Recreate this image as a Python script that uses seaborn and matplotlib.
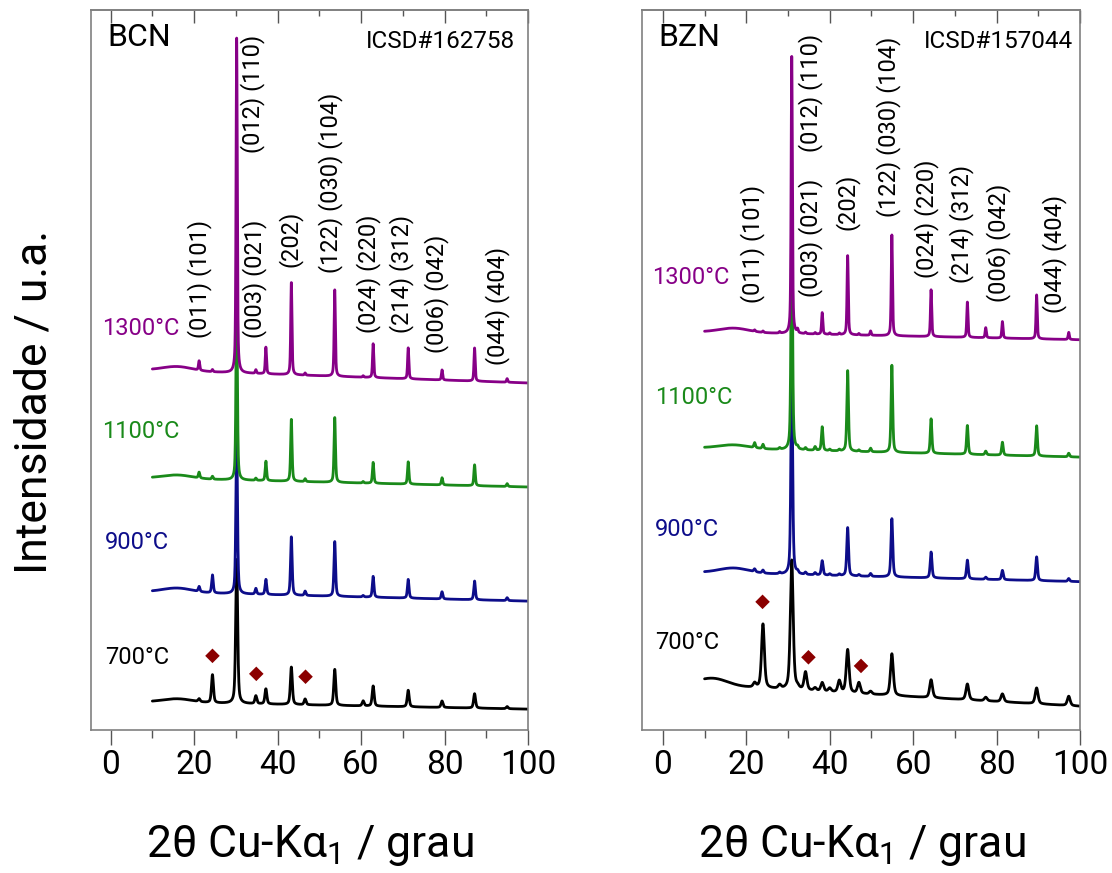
import numpy as np
import matplotlib
matplotlib.use("Agg")
import matplotlib.pyplot as plt
from matplotlib.ticker import MultipleLocator
import seaborn as sns

# ---- data (y in arbitrary units, axis spans 0..100) ----
series = ["700°C", "900°C", "1100°C", "1300°C"]
colors = ["#000000", "#0d0d8a", "#1a8a1a", "#870087"]

# BCN (ICSD#162758)
bcn_pos = [21.2, 24.4, 30.2, 34.8, 37.2, 43.3, 46.6, 53.7, 60.5, 62.9, 71.3, 79.4, 87.2, 95.0]
bcn_h700 = [0.4, 3.9, 20.0, 1.1, 2.1, 5.2, 0.8, 5.0, 0.7, 2.8, 2.3, 0.9, 2.0, 0.3]
bcn_h900 = [0.7, 2.5, 22.0, 0.8, 2.1, 8.1, 0.6, 7.6, 0.2, 2.9, 2.6, 1.0, 2.6, 0.4]
bcn_h1100 = [0.8, 0.4, 26.0, 0.3, 2.7, 8.6, 0.4, 9.0, 0.2, 2.9, 3.1, 1.0, 2.9, 0.4]
bcn_h1300 = [1.3, 0.3, 46.5, 0.5, 3.7, 12.8, 0.3, 12.0, 0.2, 4.7, 4.3, 1.4, 4.6, 0.5]
bcn_base = [(3.9, 2.9), (19.2, 17.9), (35.0, 33.75), (50.0, 48.2)]
bcn_hump = [(16, 0.5), (16, 0.6), (16, 0.5), (16, 0.6)]
bcn_fwhm = [0.55, 0.45, 0.4, 0.35]
bcn_imp_x = [24.4, 34.9, 46.7]
bcn_imp_y = [10.3, 7.8, 7.4]

# BZN (ICSD#157044)
bzn_pos = [22.0, 24.0, 28.0, 30.9, 32.3, 34.2, 36.5, 38.2, 40.0, 42.3, 44.3, 47.0,
           49.8, 54.9, 64.3, 73.0, 77.4, 81.4, 89.6, 97.3]
bzn_h700 = [0.6, 8.9, 0.5, 18.0, 0.3, 2.5, 0.4, 1.2, 0.5, 1.6, 6.0, 1.5,
            0.4, 5.8, 2.5, 2.2, 0.5, 1.1, 2.2, 1.3]
bzn_h900 = [0.4, 0.4, 0.2, 28.0, 0.3, 0.3, 0.3, 2.0, 0.2, 0.2, 6.7, 0.2,
            0.4, 8.1, 3.6, 2.6, 0.3, 1.3, 3.3, 0.4]
bzn_h1100 = [0.7, 0.6, 0.2, 32.0, 0.3, 0.3, 0.5, 3.3, 0.2, 0.2, 11.2, 0.2,
             0.5, 12.1, 4.8, 4.0, 0.5, 1.8, 4.2, 0.5]
bzn_h1300 = [0.2, 0.2, 0.2, 38.5, 0.5, 0.2, 0.2, 3.0, 0.2, 0.2, 11.0, 0.2,
             0.6, 14.0, 6.5, 4.9, 1.4, 2.3, 6.1, 1.0]
bzn_base = [(6.25, 3.3), (21.9, 20.6), (39.2, 37.9), (55.3, 54.2)]
bzn_hump = [(12, 1.0), (17, 0.7), (17, 0.5), (17, 0.6)]
bzn_fwhm = [0.8, 0.5, 0.45, 0.35]
bzn_imp_x = [23.9, 34.9, 47.5]
bzn_imp_y = [17.8, 10.1, 8.9]

# Miller index labels: (text, x, y of text start)
bcn_hkl = [("(011) (101)", 21.4, 54.4), ("(003) (021)", 34.6, 54.4),
           ("(012) (110)", 34.1, 80.1), ("(202)", 43.0, 64.3),
           ("(122) (030) (104)", 52.6, 63.5), ("(024) (220)", 61.7, 55.1),
           ("(214) (312)", 69.8, 55.1), ("(006) (042)", 78.2, 52.4),
           ("(044) (404)", 92.8, 50.7)]
bzn_hkl = [("(011) (101)", 21.4, 59.3), ("(003) (021)", 35.3, 60.1),
           ("(012) (110)", 35.3, 80.3), ("(202)", 44.2, 69.4),
           ("(122) (030) (104)", 54.0, 71.25), ("(024) (220)", 63.3, 62.8),
           ("(214) (312)", 71.7, 62.1), ("(006) (042)", 80.4, 59.4),
           ("(044) (404)", 94.0, 57.9)]
bcn_lab = [(-1.4, 10.1), (-1.4, 26.0), (-2.1, 41.4), (-2.1, 55.8)]
bzn_lab = [(-1.8, 12.2), (-1.8, 27.8), (-1.8, 46.25), (-2.6, 62.8)]

two_theta = np.arange(10, 100.001, 0.02)


def pattern(pos, heights, fwhm, base, hump):
    # pseudo-Voigt peaks on a sloping background with a small amorphous hump
    y = base[0] + (base[1] - base[0]) * (two_theta - 10) / 90
    y = y + hump[1] * np.exp(-0.5 * ((two_theta - hump[0]) / 3.5) ** 2)
    g = fwhm / 2
    for c, h in zip(pos, heights):
        lor = g ** 2 / ((two_theta - c) ** 2 + g ** 2)
        gau = np.exp(-np.log(2) * ((two_theta - c) / g) ** 2)
        y = y + h * (0.5 * lor + 0.5 * gau)
    return y


sns.set_style("ticks")
plt.rcParams['font.family'] = ['Roboto', 'DejaVu Sans']
plt.rcParams['mathtext.fontset'] = 'custom'
plt.rcParams['mathtext.rm'] = 'Roboto'
plt.rcParams['mathtext.it'] = 'Roboto'
plt.rcParams['text.color'] = 'black'
plt.rcParams['xtick.labelcolor'] = 'black'

fig = plt.figure(figsize=(11.12, 8.73), dpi=100)
ax1 = fig.add_axes([91 / 1112, 143 / 873, 437 / 1112, 720 / 873])
ax2 = fig.add_axes([642 / 1112, 143 / 873, 438 / 1112, 720 / 873])

panels = [
    (ax1, "BCN", "ICSD#162758", bcn_pos, [bcn_h700, bcn_h900, bcn_h1100, bcn_h1300],
     bcn_base, bcn_hump, bcn_fwhm, bcn_imp_x, bcn_imp_y, bcn_hkl, bcn_lab, -4.7, 0.970),
    (ax2, "BZN", "ICSD#157044", bzn_pos, [bzn_h700, bzn_h900, bzn_h1100, bzn_h1300],
     bzn_base, bzn_hump, bzn_fwhm, bzn_imp_x, bzn_imp_y, bzn_hkl, bzn_lab, -5.0, 0.984),
]

for (ax, name, icsd, pos, hs, base, hump, fwhm, ix, iy, hkl, lab, x0, icx) in panels:
    for i in range(4):
        y = pattern(pos, hs[i], fwhm[i], base[i], hump[i])
        sns.lineplot(x=two_theta, y=y, color=colors[i], linewidth=2.0, ax=ax,
                     estimator=None, sort=False)
        ax.text(lab[i][0], lab[i][1], series[i], color=colors[i], fontsize=17,
                ha='left', va='center')
    sns.scatterplot(x=ix, y=iy, marker='D', color='#8b0000', s=55, ax=ax,
                    edgecolor='none', zorder=5)
    for t, x, y in hkl:
        ax.text(x, y, t, rotation=90, rotation_mode='anchor', ha='left',
                va='center', fontsize=17, color='black')
    ax.text(0.037, 0.962, name, transform=ax.transAxes, fontsize=23,
            ha='left', va='center', color='black')
    ax.text(icx, 0.956, icsd, transform=ax.transAxes, fontsize=17.5,
            ha='right', va='center', color='black')

    ax.set_xlim(x0, 100)
    ax.set_ylim(0, 100)
    ax.set_yticks([])
    ax.set_xlabel("")
    ax.set_ylabel("")
    ax.xaxis.set_major_locator(MultipleLocator(20))
    ax.xaxis.set_minor_locator(MultipleLocator(10))
    ax.tick_params(axis='x', which='major', direction='out', length=11, width=1,
                   color='#555555', labelcolor='black', labelsize=24, pad=3)
    ax.tick_params(axis='x', which='minor', direction='out', length=6, width=1,
                   color='#555555')
    for sp in ax.spines.values():
        sp.set_visible(True)
        sp.set_color('#808080')
        sp.set_linewidth(1.2)
    top = ax.secondary_xaxis('top')
    top.xaxis.set_major_locator(MultipleLocator(20))
    top.xaxis.set_minor_locator(MultipleLocator(10))
    top.tick_params(axis='x', which='major', direction='in', length=9.5, width=1,
                    color='#555555', labeltop=False)
    top.tick_params(axis='x', which='minor', direction='in', length=4, width=1,
                    color='#555555')
    top.spines['top'].set_color('#808080')
    top.spines['top'].set_linewidth(1.2)

fig.text(35 / 1112, 1 - 402 / 873, "Intensidade / u.a.", rotation=90,
         ha='center', va='center', fontsize=32, color='black')
fig.text(310 / 1112, 1 - 845 / 873, "2θ Cu-Kα$_1$ / grau", ha='center',
         va='center', fontsize=32, color='black')
fig.text(862 / 1112, 1 - 845 / 873, "2θ Cu-Kα$_1$ / grau", ha='center',
         va='center', fontsize=32, color='black')

fig.savefig("out.png", dpi=100)
